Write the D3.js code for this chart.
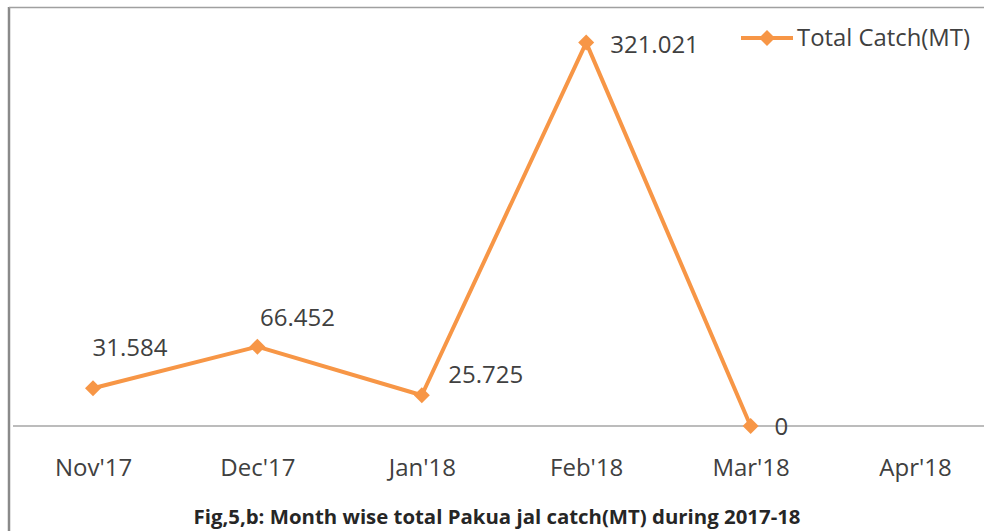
<!DOCTYPE html>
<html><head><meta charset="utf-8">
<script src="https://cdn.jsdelivr.net/npm/d3@7"></script>
<style>body{margin:0;background:#fff}svg{display:block}</style>
</head><body>
<script>
const months = ["Nov'17","Dec'17","Jan'18","Feb'18","Mar'18","Apr'18"];
const catchValues = [31.584, 66.452, 25.725, 321.021, 0, null];
const valueLabels = ["31.584","66.452","25.725","321.021","0",null];
const seriesName = "Total Catch(MT)";
const caption = "Fig,5,b: Month wise total Pakua jal catch(MT) during 2017-18";

const W = 984, H = 531;
const color = "#F79646";
const font = "'Open Sans', 'Liberation Sans', sans-serif";
const svg = d3.select("body").append("svg").attr("width", W).attr("height", H);

// frame
svg.append("line").attr("x1",9).attr("x2",9).attr("y1",7).attr("y2",H).attr("stroke","#8a8a8a").attr("stroke-width",2.5);
svg.append("line").attr("x1",9).attr("x2",W).attr("y1",7.5).attr("y2",7.5).attr("stroke","#a0a0a0").attr("stroke-width",1.5);

const x = d3.scalePoint().domain(months).range([93, 915]);
const y = d3.scaleLinear().domain([0, 350]).range([426, 8]);

// axis
const xAxis = svg.append("g").attr("transform",`translate(0,${y(0)})`)
  .call(d3.axisBottom(x).tickSize(0).tickPadding(33));
xAxis.select(".domain").attr("d",`M13,0H${W}`).attr("stroke","#a6a6a6").attr("stroke-width",1.5);
xAxis.selectAll("text").attr("font-family",font).attr("font-size",24).attr("fill","#404040");

const pts = months.map((m,i)=>({m, v:catchValues[i], l:valueLabels[i]})).filter(d=>d.v!==null);

svg.append("path").datum(pts)
  .attr("d", d3.line().x(d=>x(d.m)).y(d=>y(d.v)))
  .attr("fill","none").attr("stroke",color).attr("stroke-width",4).attr("stroke-linejoin","round");

svg.selectAll(".mk").data(pts).join("path")
  .attr("d", d3.symbol().type(d3.symbolSquare).size(128)())
  .attr("transform", d=>`translate(${x(d.m)},${y(d.v)}) rotate(45)`)
  .attr("fill",color);

// label offsets relative to point (anchor: middle for first three, start for last two)
const offsets = [[37,-41],[40,-29],[64,-21],[24,2],[24,1]];
svg.selectAll(".lbl").data(pts).join("text")
  .attr("x",(d,i)=>x(d.m)+offsets[i][0])
  .attr("y",(d,i)=>y(d.v)+offsets[i][1])
  .attr("dy","0.35em").attr("text-anchor",(d,i)=> i>=3 ? "start" : "middle")
  .attr("font-family",font).attr("font-size",24).attr("fill","#404040")
  .text(d=>d.l);

// legend
const lg = svg.append("g");
lg.append("line").attr("x1",741).attr("x2",793).attr("y1",38).attr("y2",38).attr("stroke",color).attr("stroke-width",4);
lg.append("path").attr("d", d3.symbol().type(d3.symbolSquare).size(128)()).attr("transform","translate(767,38) rotate(45)").attr("fill",color);
lg.append("text").attr("x",797).attr("y",38).attr("dy","0.35em").attr("font-family",font).attr("font-size",24).attr("fill","#404040")
  .attr("textLength",173).attr("lengthAdjust","spacingAndGlyphs").text(seriesName);

svg.append("text").attr("x",497).attr("y",517).attr("dy","0.35em").attr("text-anchor","middle")
  .attr("font-family",font).attr("font-size",19).attr("font-weight","bold").attr("fill","#262626")
  .attr("textLength",607).attr("lengthAdjust","spacingAndGlyphs").text(caption);
</script>
</body></html>
